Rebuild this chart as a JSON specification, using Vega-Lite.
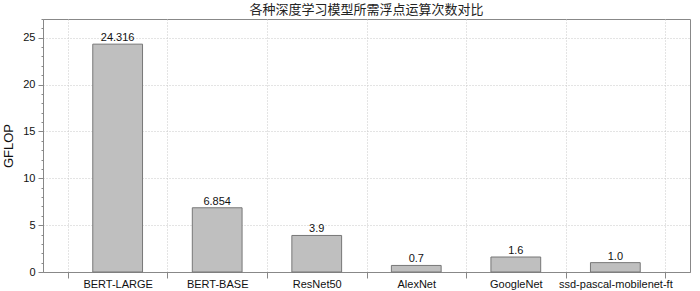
{
  "$schema": "https://vega.github.io/schema/vega-lite/v6.json",
  "autosize": {"type": "none"},
  "padding": {"left": 43, "top": 19, "right": 10, "bottom": 19},
  "width": 647,
  "height": 253,
  "background": "white",
  "title": {
    "text": "各种深度学习模型所需浮点运算次数对比",
    "font": "Noto Sans CJK SC",
    "fontSize": 13,
    "fontWeight": "normal",
    "color": "#222",
    "anchor": "middle",
    "offset": 2
  },
  "config": {
    "view": {"stroke": "#888", "strokeWidth": 1},
    "font": "Liberation Sans"
  },
  "data": {
    "values": [
      {"model": "BERT-LARGE", "gflop": 24.316, "label": "24.316"},
      {"model": "BERT-BASE", "gflop": 6.854, "label": "6.854"},
      {"model": "ResNet50", "gflop": 3.9, "label": "3.9"},
      {"model": "AlexNet", "gflop": 0.7, "label": "0.7"},
      {"model": "GoogleNet", "gflop": 1.6, "label": "1.6"},
      {"model": "ssd-pascal-mobilenet-ft", "gflop": 1.0, "label": "1.0"}
    ]
  },
  "encoding": {
    "x": {
      "field": "model",
      "type": "nominal",
      "sort": null,
      "scale": {"paddingInner": 0, "paddingOuter": 0.25},
      "axis": {
        "title": null,
        "labelAngle": 0,
        "labelFontSize": 11,
        "labelColor": "#111",
        "labelPadding": 0,
        "labelBaseline": "top",
        "tickBand": "extent",
        "tickSize": 6,
        "tickColor": "#888",
        "domainColor": "#888",
        "grid": true,
        "gridColor": "#c8c8c8",
        "gridDash": [1, 2],
        "labelFont": "Liberation Sans"
      }
    },
    "y": {
      "field": "gflop",
      "type": "quantitative",
      "scale": {"domain": [0, 27], "nice": false},
      "axis": {
        "title": "GFLOP",
        "titleFontSize": 13,
        "titleFontWeight": "normal",
        "titleColor": "#111",
        "titlePadding": 7,
        "titleFont": "Liberation Sans",
        "values": [0,1,2,3,4,5,6,7,8,9,10,11,12,13,14,15,16,17,18,19,20,21,22,23,24,25,26,27],
        "labelExpr": "datum.value % 5 === 0 ? datum.label : ''",
        "labelFontSize": 11,
        "labelColor": "#111",
        "labelPadding": 3,
        "tickSize": {"condition": {"test": "datum.value % 5 === 0", "value": 5}, "value": 2},
        "tickColor": "#888",
        "domainColor": "#888",
        "grid": true,
        "gridColor": "#c8c8c8",
        "gridDash": [1, 2],
        "gridOpacity": {"condition": {"test": "datum.value % 5 === 0", "value": 1}, "value": 0}
      }
    }
  },
  "layer": [
    {
      "mark": {"type": "bar", "width": {"band": 0.5}, "fill": "#bfbfbf", "stroke": "#777", "strokeWidth": 1}
    },
    {
      "mark": {"type": "text", "dy": -6, "fontSize": 11, "color": "#111", "font": "Liberation Sans"},
      "encoding": {"text": {"field": "label"}}
    }
  ]
}
